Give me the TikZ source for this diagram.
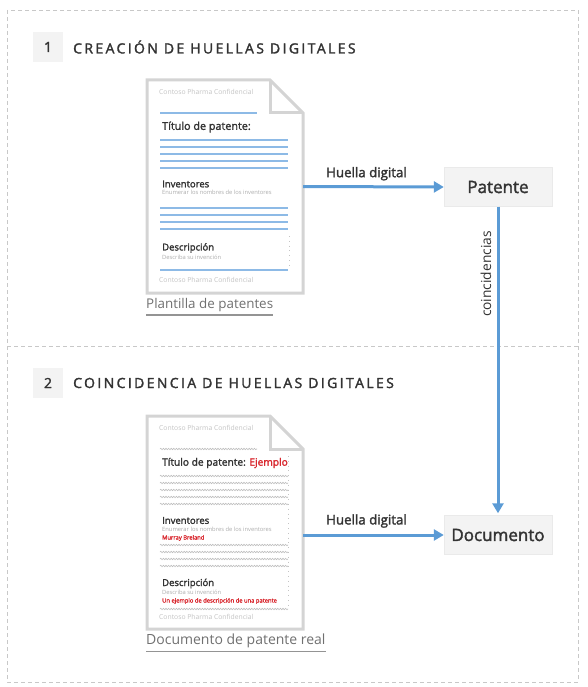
\documentclass[tikz,border=0pt]{standalone}
\usepackage{fontspec}
\setmainfont{Open Sans}
\newfontfamily\semib[FakeBold=2]{Open Sans}
\newfontfamily\ttl[FakeBold=2,LetterSpace=17]{Open Sans}
\usetikzlibrary{arrows.meta,decorations.pathmorphing}
\newcommand\fs[1]{\fontsize{#1}{#1}\selectfont}
\definecolor{bluel}{HTML}{5B9BD5}
\definecolor{bluelt}{HTML}{8DBAE6}
\definecolor{txt}{HTML}{333333}
\definecolor{docb}{HTML}{D4D4D4}
\definecolor{boxf}{HTML}{F3F3F3}
\definecolor{boxd}{HTML}{EAEAEA}
\definecolor{faint}{HTML}{C4C4C4}
\definecolor{hintc}{HTML}{ADADAD}
\definecolor{redt}{HTML}{D9272E}
\definecolor{capt}{HTML}{707070}
\definecolor{wave}{HTML}{BDBDBD}
\definecolor{dashc}{HTML}{C8C8C8}
\tikzset{
  numbox/.style={fill=boxf, minimum width=30pt, minimum height=30pt, inner sep=0pt, text=txt, font=\semib\fs{14}},
  ttlnode/.style={anchor=west, inner sep=0pt, text=txt, font=\ttl\fs{14}},
  docline/.style={draw=docb, line width=3pt, line join=miter},
  conf/.style={anchor=west, inner sep=0pt, text=faint, font=\fs{6.8}},
  head/.style={anchor=west, inner sep=0pt, text=txt, font=\semib\fs{10.8}},
  sub/.style={anchor=west, inner sep=0pt, text=txt, font=\semib\fs{9.5}},
  hint/.style={anchor=west, inner sep=0pt, text=hintc, font=\fs{5.8}},
  redhint/.style={anchor=west, inner sep=0pt, text=redt, font=\semib\fs{5.8}},
  bline/.style={draw=bluelt, line width=1.1pt},
  wline/.style={draw=wave, line width=0.6pt, decorate, decoration={snake, amplitude=0.7pt, segment length=2.6pt}},
  dotl/.style={draw=faint, line width=0.8pt, dash pattern=on 0.8pt off 4pt},
  capnode/.style={anchor=west, inner sep=0pt, text=capt},
  capline/.style={draw=capt!75, line width=1.4pt},
  arr/.style={draw=bluel, line width=3pt, -{Triangle[length=10pt,width=11pt]}},
  lab/.style={inner sep=0pt, text=txt, font=\semib\fs{13.3}},
  pbox/.style={fill=boxf, draw=boxd, line width=0.4pt, minimum width=108pt, minimum height=39pt, inner sep=0pt, text=txt, font=\semib\fs{17}},
  docarea/.style={minimum width=156pt, minimum height=213pt, inner sep=0pt}
}
\begin{document}
\begin{tikzpicture}[x=1pt,y=-1pt]
\useasboundingbox (0,0) rectangle (587,687);
% frame
\draw[dashc, line width=0.8pt, dash pattern=on 4pt off 3pt] (7,10) rectangle (578,682);
\draw[dashc, line width=0.8pt, dash pattern=on 4pt off 3pt] (7,346) -- (578,346);
% titles
\node[numbox] (n1) at (48,47) {1};
\node[ttlnode] (t1) at (73,47) {CREACIÓN DE HUELLAS DIGITALES};
\node[numbox] (n2) at (48,383) {2};
\node[ttlnode] (t2) at (73,383) {COINCIDENCIA DE HUELLAS DIGITALES};

% document 1
\node[docarea] (doc1) at (225,186.5) {};
\draw[docline, fill=white] (147,80) -- (270,80) -- (303,113) -- (303,293) -- (147,293) -- cycle;
\draw[docline] (270,80) -- (270,113) -- (303,113);
\node[conf] (c1a) at (159,92) {Contoso Pharma Confidencial};
\draw[bline] (160,113) -- (257,113);
\node[head] (h1) at (162,127) {Título de patente:};
\foreach \yy in {140,147,154,161,168} \draw[bline] (160,\yy) -- (288,\yy);
\node[sub] (i1) at (162,184) {Inventores};
\node[hint] (i1h) at (162,192.5) {Enumerar los nombres de los inventores};
\foreach \yy in {208,215,222,229} \draw[bline] (160,\yy) -- (288,\yy);
\node[sub] (d1) at (162,248) {Descripción};
\node[hint] (d1h) at (162,257) {Describa su invención};
\draw[dotl] (289,236) -- (289,265);
\draw[bline] (160,270) -- (288,270);
\node[conf] (c1b) at (159,280) {Contoso Pharma Confidencial};
\node[capnode, font=\fs{13.4}] (cap1) at (146,305) {Plantilla de patentes};
\draw[capline] ([yshift=-3pt]cap1.south west) -- ([yshift=-3pt]cap1.south east);

% document 2
\node[docarea] (doc2) at (225,522.5) {};
\begin{scope}[shift={(0,336)}]
\draw[docline, fill=white] (147,80) -- (270,80) -- (303,113) -- (303,293) -- (147,293) -- cycle;
\draw[docline] (270,80) -- (270,113) -- (303,113);
\draw[dotl] (288,120) -- (288,272);
\node[conf] (c2a) at (159,92) {Contoso Pharma Confidencial};
\draw[wline] (160,113) -- (257,113);
\node[head, font=\semib\fs{10.2}] (h2) at (162,127) {Título de patente: \textcolor{redt}{Ejemplo}};
\foreach \yy in {140,147,154,161,168} \draw[wline] (160,\yy) -- (288,\yy);
\node[sub] (i2) at (162,184.5) {Inventores};
\node[hint] (i2h) at (162,193.5) {Enumerar los nombres de los inventores};
\node[redhint] (i2r) at (162,202) {Murray Breland};
\foreach \yy in {209,216,223,230} \draw[wline] (160,\yy) -- (288,\yy);
\node[sub] (d2) at (162,247.5) {Descripción};
\node[hint] (d2h) at (162,256.5) {Describa su invención};
\node[redhint] (d2r) at (162,265) {Un ejemplo de descripción de una patente};
\draw[wline] (160,273) -- (288,273);
\node[conf] (c2b) at (159,281) {Contoso Pharma Confidencial};
\end{scope}
\node[capnode, font=\fs{14}] (cap2) at (146,641) {Documento de patente real};
\draw[capline] ([yshift=-3pt]cap2.south west) -- ([yshift=-3pt]cap2.south east);

% boxes
\node[pbox] (pat) at (498,187) {Patente};
\node[pbox] (docu) at (498,535) {Documento};

% connectors
\draw[arr] (doc1.east) -- (pat.west) node[pos=0.45, lab, anchor=center, yshift=13pt] (hl1) {Huella digital};
\draw[arr] (doc2.east |- docu.west) -- (docu.west) node[pos=0.45, lab, anchor=center, yshift=14pt] (hl2) {Huella digital};
\draw[arr, shorten >=2pt] (pat.south) -- (docu.north);
\node[inner sep=0pt, text=txt, font=\fs{13.8}, rotate=90] (coin) at (486,274) {coincidencias};
\end{tikzpicture}
\end{document}
